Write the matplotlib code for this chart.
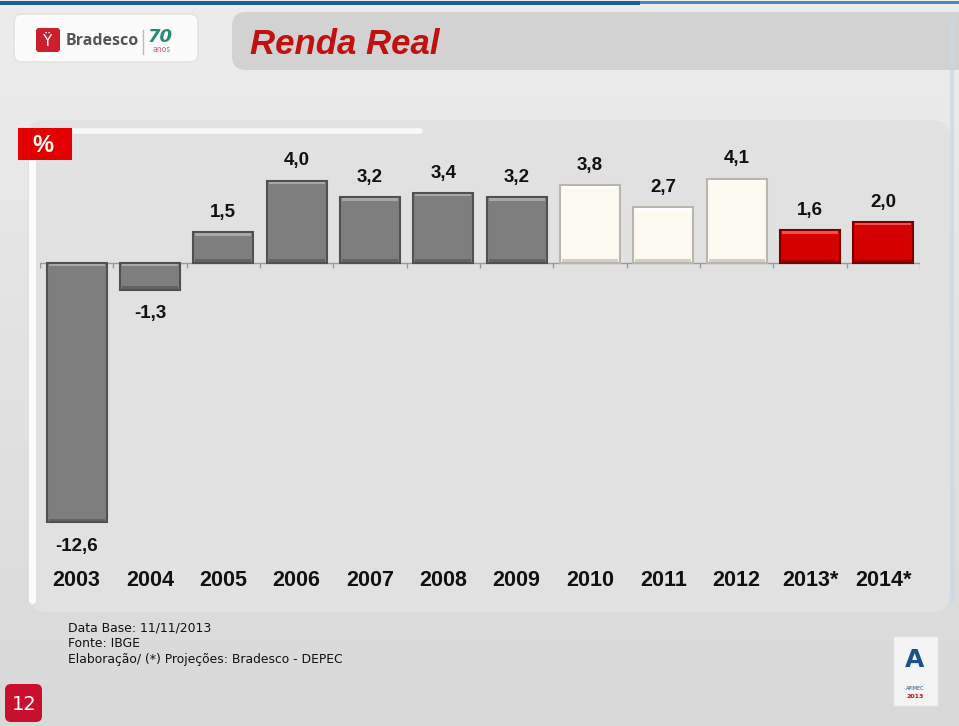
import numpy as np
import matplotlib.pyplot as plt
from matplotlib.patches import FancyBboxPatch, Rectangle
from matplotlib.transforms import blended_transform_factory

# dados
anos = ['2003', '2004', '2005', '2006', '2007', '2008', '2009',
        '2010', '2011', '2012', '2013*', '2014*']
renda = [-12.6, -1.3, 1.5, 4.0, 3.2, 3.4, 3.2, 3.8, 2.7, 4.1, 1.6, 2.0]
grupo = ['hist'] * 7 + ['rec'] * 3 + ['proj'] * 2
notas = ['Data Base: 11/11/2013', 'Fonte: IBGE',
         'Elaboração/ (*) Projeções: Bradesco - DEPEC']

cores = {'hist': ('#7e7e7e', '#505050', '#a8a8a8'),
         'rec': ('#fbf9f0', '#b9b7ad', '#ffffff'),
         'proj': ('#d50000', '#7a0000', '#f05050')}

W, H = 959, 726
fig = plt.figure(figsize=(W / 100, H / 100), dpi=100)

# fundo em coordenadas de pixel
bg = fig.add_axes([0, 0, 1, 1])
bg.set_xlim(0, W)
bg.set_ylim(H, 0)
bg.axis('off')
grad = np.linspace(0, 1, 200)[:, None]
bg.imshow(grad, cmap=plt.matplotlib.colors.LinearSegmentedColormap.from_list(
    'bg', ['#ededed', '#e2e2e2', '#d9d9d9']), extent=[0, W, H, 0], aspect='auto', zorder=0)

# linha azul no topo
bg.add_patch(Rectangle((0, 1), 640, 4, color='#1d5c9e', lw=0, zorder=1))
bg.add_patch(Rectangle((640, 1), W - 640, 3, color='#4a86c0', lw=0, zorder=1))

# faixa do título
bg.add_patch(FancyBboxPatch((232, 12), 760, 58, boxstyle='round,pad=0,rounding_size=14',
                            fc='#d2d2d2', ec='none', zorder=1))
bg.add_patch(FancyBboxPatch((14, 14), 184, 48, boxstyle='round,pad=0,rounding_size=8',
                            fc='#fbfbfb', ec='#e0e0e0', lw=1, zorder=2))
bg.add_patch(FancyBboxPatch((36, 28), 24, 24, boxstyle='round,pad=0,rounding_size=3',
                            fc='#cc1f2e', ec='none', zorder=3))
bg.text(48, 41, 'Ϋ', color='white', fontsize=11, ha='center', va='center', zorder=4)
bg.text(66, 41, 'Bradesco', color='#555555', fontsize=11.5, fontweight='bold',
        ha='left', va='center', zorder=4, family='Open Sans')
bg.plot([143, 143], [30, 54], color='#bbbbbb', lw=1, zorder=4)
bg.text(160, 37, '70', color='#2a8a7a', fontsize=13, fontweight='bold', fontstyle='italic',
        ha='center', va='center', zorder=4)
bg.text(162, 50, 'anos', color='#d06080', fontsize=5.5, ha='center', va='center', zorder=4)
bg.text(250, 45, 'Renda Real', color='#c01010', fontsize=25, fontweight='bold',
        fontstyle='italic', family='Liberation Sans', ha='left', va='center', zorder=4)

# painel do gráfico
bg.add_patch(FancyBboxPatch((28, 120), 922, 492, boxstyle='round,pad=0,rounding_size=18',
                            fc='#e1e1e1', ec='none', zorder=1))
bg.plot([32, 32], [140, 600], color='white', lw=5, alpha=0.9, solid_capstyle='round', zorder=2)
bg.plot([60, 420], [131, 131], color='white', lw=4, alpha=0.8, solid_capstyle='round', zorder=2)
bg.plot([952, 952], [20, 600], color='#c8d8e8', lw=3, alpha=0.7, zorder=2)

# caixa "%"
bg.add_patch(Rectangle((18, 128), 54, 32, color='#e20000', lw=0, zorder=3))
bg.text(43, 145, '%', color='white', fontsize=17, fontweight='bold',
        family='Liberation Sans', ha='center', va='center', zorder=4)

# rodapé
for i, t in enumerate(notas):
    bg.text(68, 628 + i * 15.5, t, color='#111111', fontsize=8.9,
            family='DejaVu Sans', ha='left', va='center', zorder=4)
bg.add_patch(FancyBboxPatch((5, 684), 37, 38, boxstyle='round,pad=0,rounding_size=6',
                            fc='#c8102e', ec='none', zorder=3))
bg.text(24, 704, '12', color='white', fontsize=14, ha='center', va='center', zorder=4)

# selo APIMEC
bg.add_patch(Rectangle((893, 636), 45, 70, fc='#f4f4f4', ec='#dddddd', lw=1, zorder=3))
bg.text(915, 660, 'A', color='#1d4f8a', fontsize=18, fontweight='bold',
        ha='center', va='center', zorder=4)
bg.text(915, 688, 'APIMEC', color='#1d4f8a', fontsize=3.5, ha='center', va='center', zorder=4)
bg.text(915, 697, '2013', color='#c01010', fontsize=4.5, fontweight='bold',
        ha='center', va='center', zorder=4)

# gráfico de barras
ax = fig.add_axes([40 / W, (H - 541) / H, 880 / W, 381 / H])
ax.patch.set_alpha(0)
x = np.arange(len(anos))
ax.set_xlim(-0.5, len(anos) - 0.5)
ax.set_ylim(-13.5, 5.0)
for s in ax.spines.values():
    s.set_visible(False)
ax.set_xticks([])
ax.set_yticks([])

larg = 0.82
for xi, v, g in zip(x, renda, grupo):
    fc, ec, hl = cores[g]
    ax.bar(xi, v, width=larg, color=fc, edgecolor=ec, linewidth=1.5, zorder=3)
    # brilho superior / sombra inferior
    topo = max(v, 0)
    base = min(v, 0)
    ax.bar(xi, -0.12, bottom=topo - 0.05, width=larg * 0.93, color=hl, lw=0, zorder=4)
    ax.bar(xi, 0.12, bottom=base + 0.05, width=larg * 0.93, color=ec, lw=0, alpha=0.6, zorder=4)

ax.axhline(0, color='#9a9a9a', lw=1, zorder=2)
ax.vlines(np.arange(len(anos) + 1) - 0.5, -0.25, 0, color='#9a9a9a', lw=1, zorder=2)

for xi, v in zip(x, renda):
    rot = f'{v:.1f}'.replace('.', ',')
    if v >= 0:
        ax.annotate(rot, (xi, v), xytext=(0, 8), textcoords='offset points',
                    ha='center', va='bottom', fontsize=13.5, fontweight='bold',
                    family='Liberation Sans', color='#111111')
    else:
        ax.annotate(rot, (xi, v), xytext=(0, -11), textcoords='offset points',
                    ha='center', va='top', fontsize=13.5, fontweight='bold',
                    family='Liberation Sans', color='#111111')

tr = blended_transform_factory(ax.transData, fig.transFigure)
for xi, a in zip(x, anos):
    ax.text(xi, (H - 581) / H, a, transform=tr, ha='center', va='center',
            fontsize=15.5, fontweight='bold', family='Liberation Sans', color='#111111')

fig.savefig('out.png', dpi=100)
